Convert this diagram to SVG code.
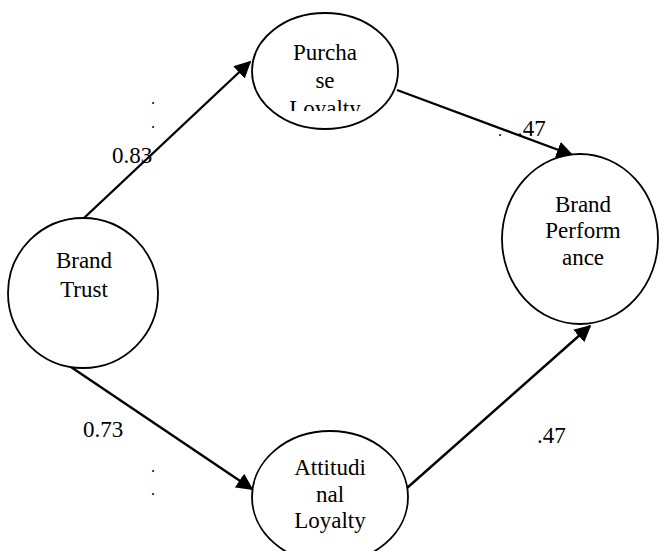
<svg xmlns="http://www.w3.org/2000/svg" width="659" height="551" viewBox="0 0 659 551">
<style>
.node{fill:#fff;stroke:#000;stroke-width:1.8}
text{font-family:"Liberation Serif","DejaVu Serif",serif;fill:#000}
.t{font-size:23px;text-anchor:middle}
.l{font-size:23px}
.d{font-size:16px}
.c{stroke:#000;stroke-width:2.4;fill:none;marker-end:url(#ah)}
</style>
<defs>
<marker id="ah" viewBox="0 0 10 10" refX="9" refY="5" markerWidth="7" markerHeight="7" markerUnits="strokeWidth" orient="auto">
<path d="M0,0 L10,5 L0,10 z" fill="#000"/>
</marker>
<clipPath id="pclip"><rect x="250" y="0" width="150" height="111"/></clipPath>
</defs>
<rect width="659" height="551" fill="#fff"/>
<g id="connectors">
<line class="c" x1="84" y1="218" x2="250" y2="62"/>
<line class="c" x1="397" y1="90" x2="572" y2="155"/>
<line class="c" x1="68" y1="365" x2="252" y2="489"/>
<line class="c" x1="407" y1="488" x2="590" y2="326"/>
</g>
<g id="labels">
<text class="l" x="112" y="163">0.83</text>
<text class="d" x="151" y="104">.</text>
<text class="d" x="151" y="128">.</text>
<text class="d" x="498" y="136">.</text>
<text class="l" x="517" y="136">.47</text>
<text class="l" x="83" y="437">0.73</text>
<text class="d" x="151" y="472">.</text>
<text class="d" x="151" y="495">.</text>
<text class="l" x="537" y="443">.47</text>
</g>
<g id="purchase-loyalty">
<ellipse class="node" cx="325" cy="71" rx="73" ry="58"/>
<g clip-path="url(#pclip)">
<text class="t" x="325" y="60">Purcha</text>
<text class="t" x="325" y="88">se</text>
<text class="t" x="325" y="116">Loyalty</text>
</g>
</g>
<g id="brand-trust">
<ellipse class="node" cx="83" cy="293" rx="75" ry="75"/>
<text class="t" x="84" y="268">Brand</text>
<text class="t" x="84" y="297">Trust</text>
</g>
<g id="brand-performance">
<ellipse class="node" cx="580" cy="239" rx="78" ry="85"/>
<text class="t" x="583" y="212">Brand</text>
<text class="t" x="583" y="238">Perform</text>
<text class="t" x="583" y="265">ance</text>
</g>
<g id="attitudinal-loyalty">
<ellipse class="node" cx="330" cy="497" rx="78" ry="66"/>
<text class="t" x="330" y="475">Attitudi</text>
<text class="t" x="330" y="502">nal</text>
<text class="t" x="330" y="528">Loyalty</text>
</g>
</svg>
